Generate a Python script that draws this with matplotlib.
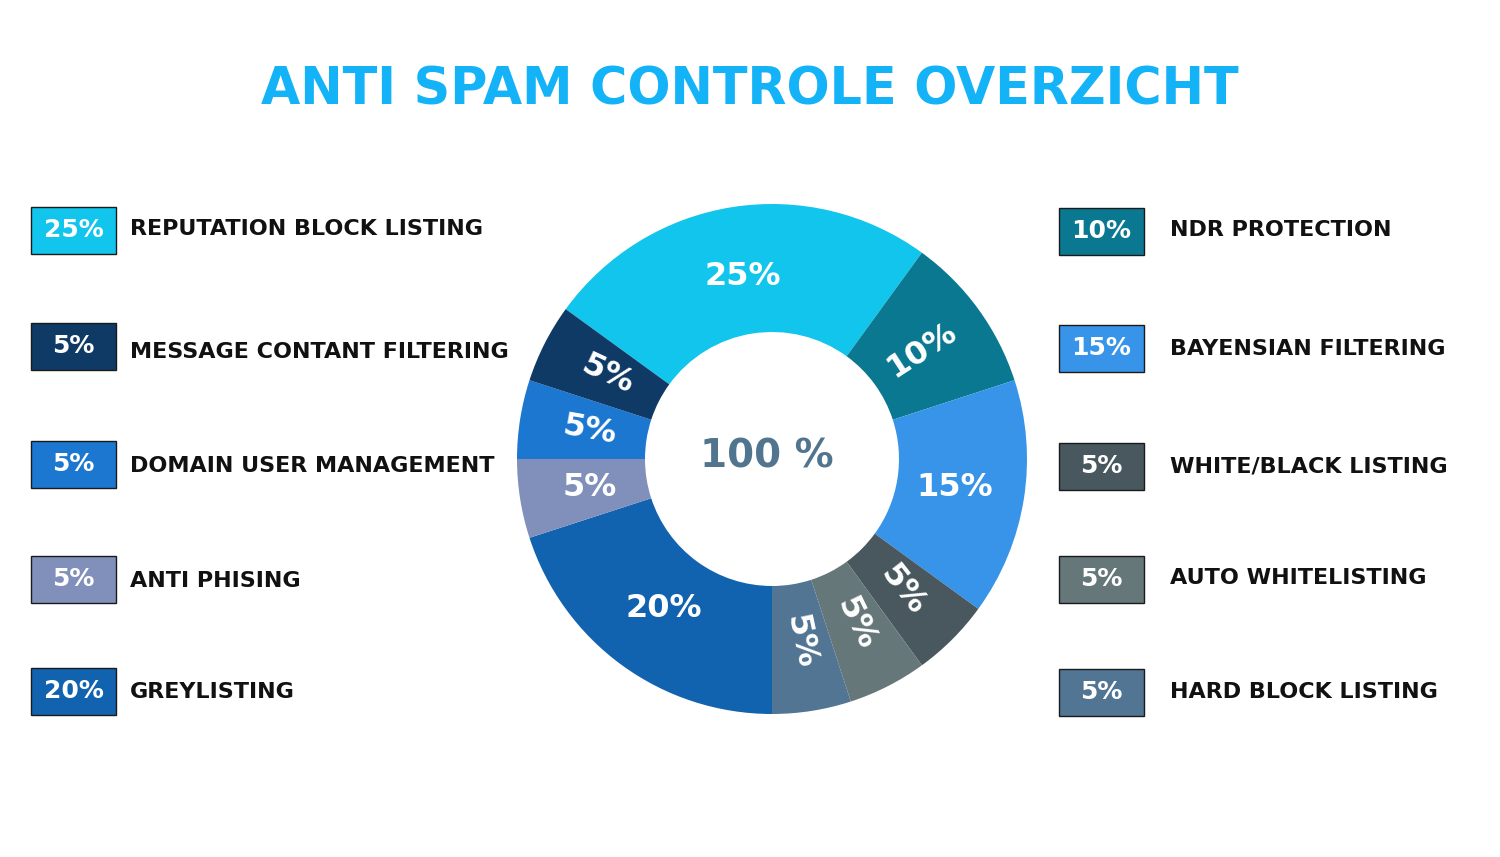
import matplotlib
matplotlib.use("Agg")
import matplotlib.pyplot as plt
from matplotlib.patches import Rectangle
import numpy as np

# slice data, clockwise from the upper left
labels = ["REPUTATION BLOCK LISTING", "NDR PROTECTION", "BAYENSIAN FILTERING",
          "WHITE/BLACK LISTING", "AUTO WHITELISTING", "HARD BLOCK LISTING",
          "GREYLISTING", "ANTI PHISING", "DOMAIN USER MANAGEMENT",
          "MESSAGE CONTANT FILTERING"]
shares = [25, 10, 15, 5, 5, 5, 20, 5, 5, 5]
colors = ["#12C5EC", "#0A7891", "#3794E8", "#48585E", "#66777A",
          "#527593", "#1162AF", "#8190BB", "#1C77D0", "#103A66"]

# which slice goes in which legend column (top to bottom)
left_items = [0, 9, 8, 7, 6]
right_items = [1, 2, 3, 4, 5]

title = "ANTI SPAM CONTROLE OVERZICHT"
center_text = "100 %"

W, H = 1500, 857
fig = plt.figure(figsize=(W / 100, H / 100), dpi=100)
fig.patch.set_facecolor("white")

# full-figure axes in pixel coords for title and legend
bg = fig.add_axes([0, 0, 1, 1])
bg.set_xlim(0, W)
bg.set_ylim(H, 0)
bg.axis("off")

FONT = "DejaVu Sans"

bg.text(750, 90, title, color="#14B3F8", fontsize=36.5, fontweight="bold",
        family=FONT, ha="center", va="center")

# donut
cx, cy, R = 772, 459, 255
half = 280
ax = fig.add_axes([(cx - half) / W, (H - cy - half) / H, 2 * half / W, 2 * half / H])
wedges, _ = ax.pie(shares, colors=colors, startangle=144, counterclock=False,
                   wedgeprops=dict(width=0.502, linewidth=0))
ax.set_xlim(-half / R, half / R)
ax.set_ylim(-half / R, half / R)

# slice labels, rotation per slice like the original
rotations = [0, 33, 0, -52, -64, -78, 0, 0, -10, -25]
for w, s, rot in zip(wedges, shares, rotations):
    mid = np.deg2rad((w.theta1 + w.theta2) / 2)
    ax.text(0.725 * np.cos(mid), 0.725 * np.sin(mid), f"{s}%", color="white",
            fontsize=23, fontweight="bold", family=FONT, ha="center", va="center",
            rotation=rot, rotation_mode="anchor")

ax.text(-0.02, 0.01, center_text, color="#52758F", fontsize=28, fontweight="bold",
        family=FONT, ha="center", va="center")

# legend boxes
box_w, box_h = 85, 47
left_rows = [230, 346, 464, 579, 691]
left_text_rows = [229, 352, 466, 581, 692]
right_rows = [231, 348, 466, 579, 692]
right_text_rows = [230, 349, 466, 578, 692]


def legend_column(items, rows, text_rows, box_x, text_x):
    for i, y, ty in zip(items, rows, text_rows):
        bg.add_patch(Rectangle((box_x, y - box_h / 2), box_w, box_h,
                               facecolor=colors[i], edgecolor="#1a1a1a", linewidth=1))
        bg.text(box_x + box_w / 2, y, f"{shares[i]}%", color="white", fontsize=18,
                fontweight="bold", family=FONT, ha="center", va="center")
        bg.text(text_x, ty, labels[i], color="#111111", fontsize=16,
                fontweight="bold", family=FONT, ha="left", va="center")


legend_column(left_items, left_rows, left_text_rows, 31, 130)
legend_column(right_items, right_rows, right_text_rows, 1059, 1170)

fig.savefig("out.png", dpi=100, facecolor="white")
